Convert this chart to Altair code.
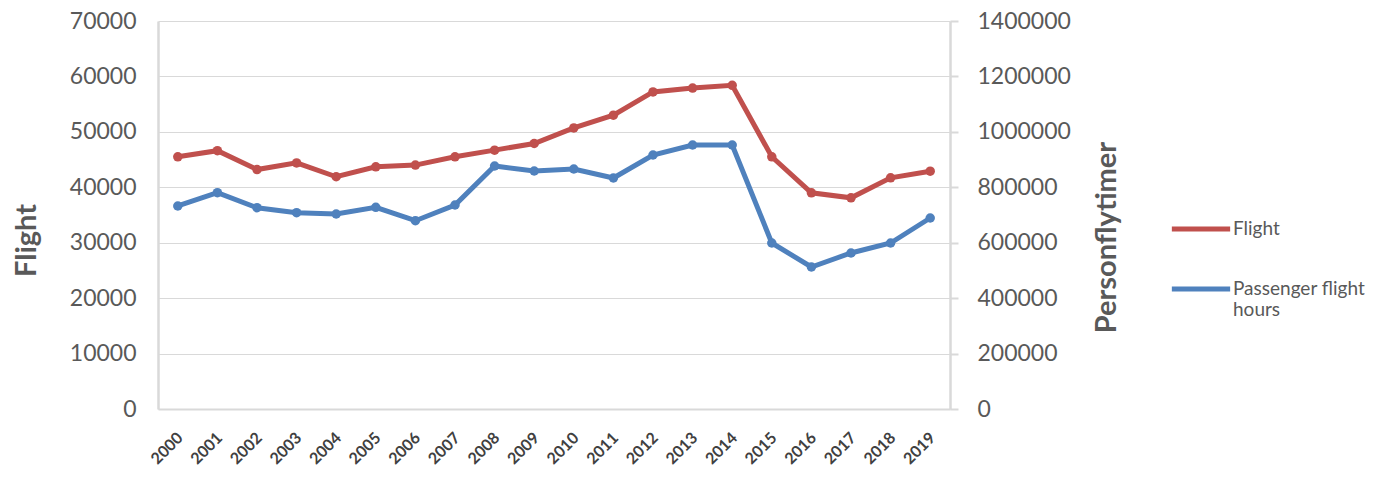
import altair as alt
import pandas as pd

years = [str(y) for y in range(2000, 2020)]
flights = [45500, 46600, 43200, 44400, 41900, 43700, 44000, 45500, 46700, 47900,
           50700, 53000, 57200, 57900, 58400, 45500, 39000, 38100, 41700, 42900]
passenger_hours = [732500, 780500, 726300, 708300, 703600, 727800, 679400, 736100, 876800, 858800,
                   866000, 833500, 916500, 952600, 952600, 599000, 512400, 562900, 599000, 689200]

series_names = ["Flight", "Passenger flight hours"]
series_colors = ["#C0504D", "#4F81BD"]

df = pd.DataFrame({"year": years, "flight": flights, "hours": passenger_hours})

FONT = "Lato"
GRAY = "#595959"
LINE = "#d9d9d9"

x = alt.X("year:O", title=None,
          axis=alt.Axis(labelAngle=-45, labelAlign="right", labelBaseline="middle",
                        labelFontWeight="bold", labelFontSize=16, labelColor="#404040",
                        ticks=False, labelPadding=26, labelOffset=2,
                        domainColor=LINE, domainWidth=2, grid=False))

color_scale = alt.Scale(domain=series_names, range=series_colors)
legend = alt.Legend(title=None, orient="none", legendX=1011, legendY=176,
                    symbolType="stroke", symbolSize=3400, symbolStrokeWidth=5,
                    labelFontSize=19, labelColor=GRAY, labelFont=FONT, labelOffset=0,
                    rowPadding=18, labelLimit=300,
                    labelExpr="datum.label == 'Passenger flight hours' ? ['Passenger flight', 'hours'] : datum.label")

color = alt.Color("series:N", scale=color_scale, legend=legend)

point = alt.OverlayMarkDef(size=90, filled=True, opacity=1)

base = alt.Chart(df)

red = base.transform_calculate(series="'Flight'").mark_line(strokeWidth=5, point=point).encode(
    x=x,
    y=alt.Y("flight:Q", title="Flight",
            scale=alt.Scale(domain=[0, 70000], nice=False),
            axis=alt.Axis(values=list(range(0, 70001, 10000)), format="d", orient="left",
                          ticks=False, labelPadding=22, labelFontSize=23, labelColor=GRAY,
                          domainColor=LINE, domainWidth=2.5, gridColor=LINE, gridWidth=1,
                          titleFontSize=29, titleFontWeight="bold", titleColor=GRAY,
                          titlePadding=28, titleY=219)),
    color=color,
)

blue = base.transform_calculate(series="'Passenger flight hours'").mark_line(strokeWidth=5, point=point).encode(
    x=x,
    y=alt.Y("hours:Q", title="Personflytimer",
            scale=alt.Scale(domain=[0, 1400000], nice=False),
            axis=alt.Axis(values=list(range(0, 1400001, 200000)), format="d", orient="right",
                          ticks=True, tickSize=8, tickColor=LINE, tickWidth=2,
                          labelPadding=19, labelFontSize=23, labelColor=GRAY,
                          domainColor=LINE, domainWidth=2.5, grid=False,
                          titleFontSize=29, titleFontWeight="bold", titleColor=GRAY,
                          titleAngle=-90, titlePadding=51, titleY=216)),
    color=color,
)

chart = alt.layer(red, blue).resolve_scale(y="independent").properties(
    width=792, height=388,
    autosize=alt.AutoSizeParams(type="none"),
    padding={"left": 158, "top": 21, "right": 429, "bottom": 77},
    background="white",
).configure_axis(labelFont=FONT, titleFont=FONT).configure_view(stroke=None)

chart.save("out.html", embed_options={"renderer": "svg", "actions": False})
